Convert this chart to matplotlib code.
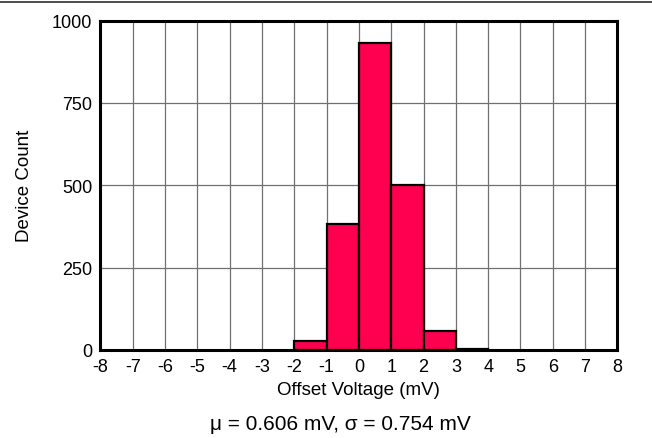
import numpy as np
import matplotlib.pyplot as plt

plt.rcParams['font.family'] = ['Liberation Sans', 'DejaVu Sans']

# histogram bins (mV) and device counts
bin_left = [-2, -1, 0, 1, 2, 3]
counts = [26, 382, 932, 502, 58, 3]
xticks = list(range(-8, 9))
yticks = [0, 250, 500, 750, 1000]

fig = plt.figure(figsize=(6.52, 4.39), dpi=100)
fig.patch.set_facecolor('white')
ax = fig.add_axes([0.154, 0.2005, 0.793, 0.7505])

ax.bar(bin_left, counts, width=1, align='edge', color='#ff0050',
       edgecolor='black', linewidth=1.6, zorder=3)

ax.set_xlim(-8, 8)
ax.set_ylim(0, 1000)
ax.set_xticks(xticks)
ax.set_xticklabels([str(t) for t in xticks])
ax.set_yticks(yticks)
ax.grid(True, color='#707070', linewidth=0.9, zorder=1)
ax.set_axisbelow(True)
ax.tick_params(length=0, labelsize=13, pad=6)
for s in ax.spines.values():
    s.set_linewidth(2.2)
    s.set_zorder(4)

ax.set_xlabel('Offset Voltage (mV)', fontsize=13.5, va='center')
ax.xaxis.set_label_coords(0.5, -0.121)
ax.set_ylabel('Device Count', fontsize=13.5, va='center', ha='center')
ax.yaxis.set_label_coords(-0.146, 0.5)

fig.text(0.522, 0.032, 'μ = 0.606 mV, σ = 0.754 mV', ha='center', va='center', fontsize=15)
# divider line at top of figure
fig.add_artist(plt.Line2D([0, 1], [0.9925, 0.9925], color='#303030', linewidth=1.2))

fig.savefig('out.png', dpi=100)
